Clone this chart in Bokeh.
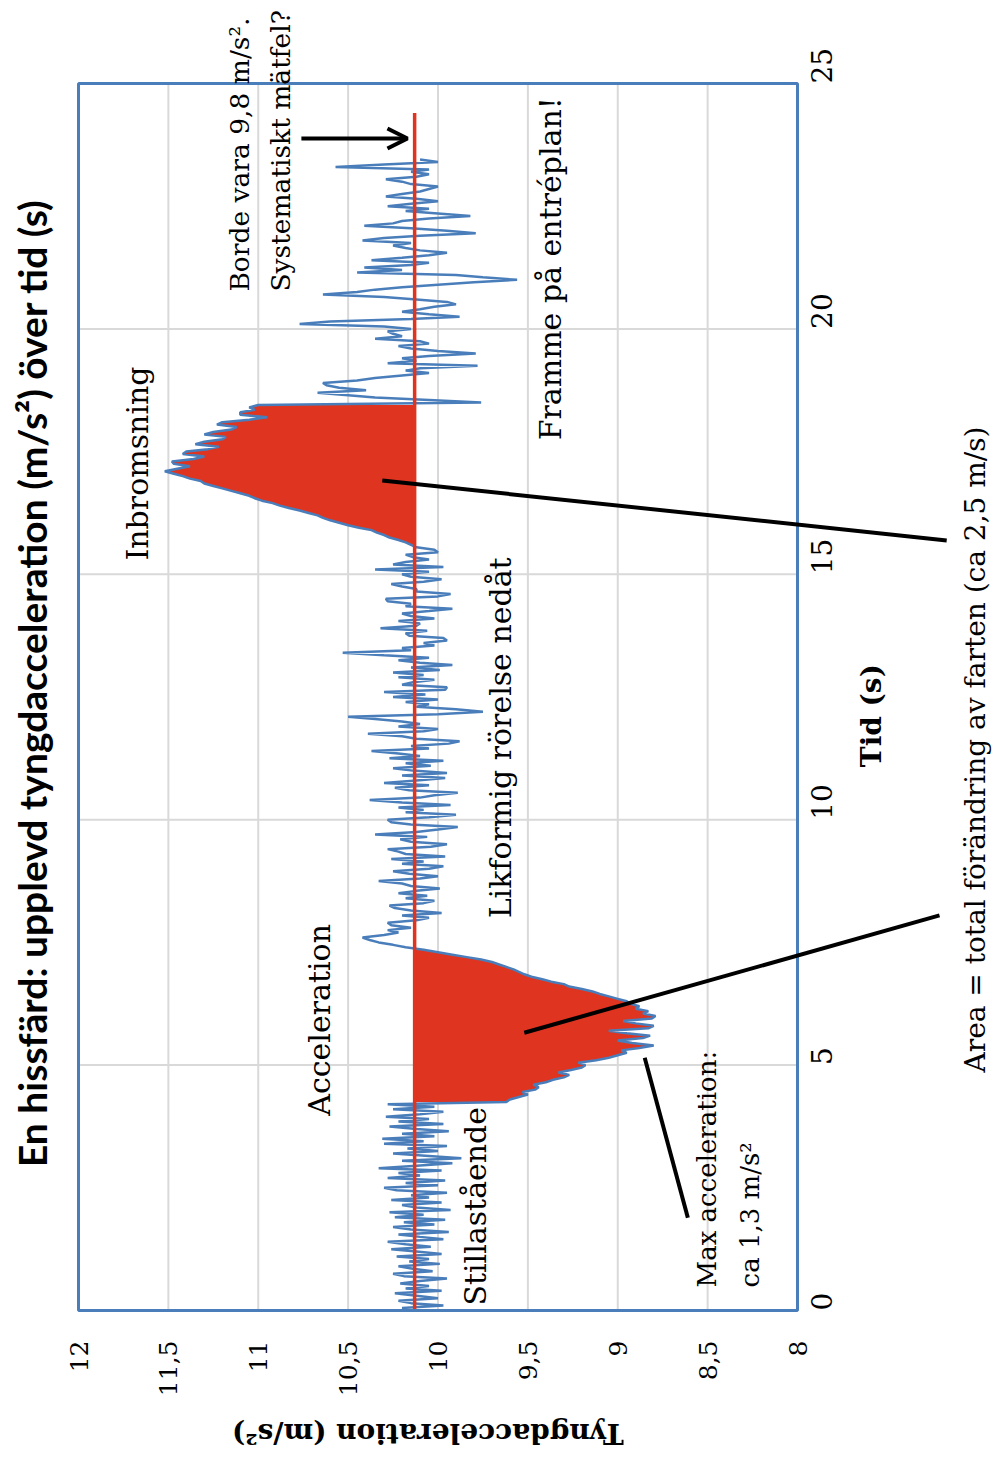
import math
from bokeh.plotting import figure
from bokeh.models import Range1d, FixedTicker, Label, Arrow, OpenHead, LinearAxis, BoxAnnotation
from bokeh.embed import file_html
from bokeh.resources import INLINE

# ---------------- data ----------------
SAMPLE_INTERVAL = 0.05         # s between samples
MEAN_G = 10.13                 # measured "rest" value (red line)
MEAN_LINE_END = 24.4           # s, where red line ends

acc_still = [10.08, 10.2, 9.97, 10.15, 10.22, 10.0, 10.12, 10.24, 9.98, 10.18,
             10.05, 10.21, 10.1, 9.95, 10.19, 10.25, 10.03, 10.14, 10.22, 9.99,
             10.16, 10.05, 10.23, 9.98, 10.12, 10.26, 10.04, 10.18, 10.28, 9.97,
             10.1, 10.22, 9.94, 10.15, 10.25, 10.02, 10.19, 9.96, 10.24, 10.08,
             10.27, 9.93, 10.12, 10.2, 9.98, 10.26, 10.05, 10.15, 9.95, 10.23,
             10.3, 10.0, 10.18, 9.96, 10.28, 10.1, 10.22, 9.98, 10.33, 10.12,
             9.92, 10.2, 9.87, 10.05, 10.25, 10.0, 10.17, 9.95, 10.3, 10.08,
             10.31, 10.02, 10.2, 9.94, 10.12, 10.27, 9.97, 10.22, 10.05, 10.29,
             10.1, 9.97, 10.25, 10.02, 10.28]
acc_accel = [9.62, 9.6, 9.55, 9.5, 9.53, 9.46, 9.44, 9.47, 9.4, 9.36,
             9.3, 9.27, 9.33, 9.26, 9.2, 9.18, 9.22, 9.12, 9.05, 9.0,
             8.95, 8.98, 8.88, 8.8, 8.92, 9.0, 8.86, 8.82, 8.95, 9.05,
             8.83, 8.8, 8.9, 8.97, 8.81, 8.79, 8.86, 8.83, 8.9, 8.88,
             8.93, 8.95, 9.0, 9.05, 9.1, 9.14, 9.2, 9.27, 9.3, 9.37,
             9.42, 9.48, 9.52, 9.55, 9.58, 9.62, 9.66, 9.7, 9.76, 9.84,
             9.92, 10.0, 10.08]
acc_uniform = [10.18, 10.25, 10.33, 10.38, 10.42, 10.3, 10.22, 10.28, 10.15, 10.26,
               10.28, 10.12, 10.05, 10.2, 9.98, 10.15, 10.24, 10.27, 10.08, 10.02,
               10.18, 10.06, 10.22, 10.12, 9.99, 10.15, 10.2, 10.33, 10.1, 10.0,
               10.16, 10.25, 10.05, 9.97, 10.2, 10.08, 10.26, 9.96, 10.18, 10.22,
               10.28, 10.04, 9.95, 10.15, 10.21, 10.06, 10.35, 10.12, 10.0, 9.89,
               10.15, 10.26, 10.28, 10.05, 9.9, 10.18, 10.08, 10.22, 9.93, 10.2,
               10.38, 10.1, 10.02, 9.89, 10.16, 10.24, 10.05, 10.3, 10.12, 9.96,
               10.2, 9.95, 10.14, 10.25, 10.04, 10.18, 9.97, 10.27, 10.1, 10.22,
               10.37, 10.05, 10.15, 9.94, 9.88, 10.12, 10.2, 10.39, 10.08, 10.0,
               10.22, 10.1, 10.2, 10.35, 10.5, 10.0, 9.75, 9.9, 10.12, 10.05,
               10.18, 10.0, 10.25, 10.07, 10.3, 9.96, 9.95, 10.2, 10.14, 10.02,
               10.22, 10.08, 10.25, 9.99, 10.15, 9.92, 10.1, 10.22, 10.05, 10.3,
               10.53, 10.15, 10.2, 10.02, 10.08, 9.95, 9.97, 10.16, 10.18, 10.06,
               10.32, 10.12, 10.1, 10.22, 10.02, 10.15, 10.2, 10.05, 9.92, 10.18,
               10.15, 10.28, 10.29, 10.0, 9.93, 10.12, 10.12, 10.2, 10.26, 10.08,
               9.98, 10.15, 10.2, 10.05, 10.35, 9.97, 10.25, 10.18, 10.05, 10.14,
               10.18, 10.0, 10.02, 10.12]
acc_brake = [10.15, 10.18, 10.22, 10.27, 10.3, 10.34, 10.37, 10.44, 10.5, 10.55,
             10.6, 10.64, 10.67, 10.72, 10.77, 10.83, 10.88, 10.92, 10.98, 11.02,
             11.05, 11.1, 11.15, 11.2, 11.25, 11.3, 11.32, 11.38, 11.42, 11.47,
             11.52, 11.45, 11.38, 11.47, 11.48, 11.36, 11.3, 11.42, 11.4, 11.28,
             11.22, 11.35, 11.3, 11.2, 11.18, 11.3, 11.25, 11.15, 11.12, 11.23,
             11.2, 11.05, 10.95, 11.1, 11.1, 11.02, 11.05, 11.0]
acc_arrived = [9.76, 10.05, 10.35, 10.5, 10.67, 10.4, 10.55, 10.62, 10.64, 10.45,
               10.35, 10.2, 10.05, 10.18, 10.1, 9.78, 10.28, 10.12, 10.2, 10.05,
               9.79, 10.0, 10.15, 10.22, 10.05, 10.1, 10.35, 10.2, 10.25, 10.28,
               10.15, 10.3, 10.77, 10.6, 10.15, 9.88, 10.05, 10.2, 10.1, 10.02,
               9.9, 9.95, 10.12, 10.3, 10.64, 10.45, 10.35, 10.2, 10.0, 9.8,
               9.56, 9.75, 9.9, 10.45, 10.2, 10.41, 10.15, 10.05, 10.37, 10.2,
               10.05, 9.95, 10.1, 10.18, 10.25, 10.15, 10.42, 10.3, 10.1, 9.79,
               9.95, 10.15, 10.41, 10.25, 10.2, 10.05, 9.82, 10.0, 10.18, 10.05,
               10.28, 10.15, 10.0, 10.12, 10.29, 10.2, 10.1, 10.05, 10.0, 10.15,
               10.2, 10.29, 10.12, 10.05, 10.15, 10.05, 10.57, 10.3, 10.0, 10.1]

acc_ticks = [8, 8.5, 9, 9.5, 10, 10.5, 11, 11.5, 12]
acc_tick_labels = ["8", "8,5", "9", "9,5", "10", "10,5", "11", "11,5", "12"]
time_ticks = [0, 5, 10, 15, 20, 25]
time_tick_labels = ["0", "5", "10", "15", "20", "25"]
ACC_MIN, ACC_MAX = 8, 12
T_MIN, T_MAX = 0, 25

acceleration = acc_still + acc_accel + acc_uniform + acc_brake + acc_arrived
time = [round(i * SAMPLE_INTERVAL, 2) for i in range(len(acceleration))]

i_acc0 = len(acc_still)
i_acc1 = i_acc0 + len(acc_accel)
i_brk0 = i_acc1 + len(acc_uniform)
i_brk1 = i_brk0 + len(acc_brake)

# ---------------- layout geometry (pixels) ----------------
W, H = 995, 1460
BOX_L, BOX_R, BOX_T, BOX_B = 78, 797, 83, 1310   # plot box in page pixels
px_per_acc = (BOX_R - BOX_L) / (ACC_MAX - ACC_MIN)
px_per_t = (BOX_B - BOX_T) / (T_MAX - T_MIN)
x_start = ACC_MAX + BOX_L / px_per_acc
x_end = ACC_MAX - (W - BOX_L) / px_per_acc
y_end = T_MIN + BOX_B / px_per_t
y_start = T_MIN - (H - BOX_B) / px_per_t

BLUE = "#4A7EBB"
RED = "#DF3420"
GRID = "#D9D9D9"
SERIF = "DejaVu Serif"

p = figure(width=W, height=H,
           x_range=Range1d(x_start, x_end), y_range=Range1d(y_start, y_end),
           x_axis_location=None, y_axis_location=None,
           output_backend="svg", toolbar_location=None, min_border=0)
p.background_fill_color = "white"
p.border_fill_color = "white"
p.outline_line_color = None
p.grid.visible = False

# grid lines inside the plot box
inner_acc = [a for a in acc_ticks if ACC_MIN < a < ACC_MAX]
inner_t = [t for t in time_ticks if T_MIN < t < T_MAX]
p.segment(x0=inner_acc, y0=[T_MIN] * len(inner_acc), x1=inner_acc, y1=[T_MAX] * len(inner_acc),
          line_color=GRID, line_width=2)
p.segment(x0=[ACC_MIN] * len(inner_t), y0=inner_t, x1=[ACC_MAX] * len(inner_t), y1=inner_t,
          line_color=GRID, line_width=2)

# axes fixed at the box edges
acc_axis = LinearAxis(fixed_location=T_MIN, ticker=FixedTicker(ticks=acc_ticks))
time_axis = LinearAxis(fixed_location=ACC_MIN, ticker=FixedTicker(ticks=time_ticks))
acc_axis.major_label_overrides = {float(k): v for k, v in zip(acc_ticks, acc_tick_labels)}
time_axis.major_label_overrides = {float(k): v for k, v in zip(time_ticks, time_tick_labels)}
for ax, size, standoff in ((acc_axis, "25px", 24), (time_axis, "28px", 18)):
    ax.axis_line_color = None
    ax.major_tick_line_color = None
    ax.minor_tick_line_color = None
    ax.major_label_orientation = math.pi / 2
    ax.major_label_text_font = SERIF
    ax.major_label_text_font_size = size
    ax.major_label_text_color = "black"
    ax.major_label_standoff = standoff
p.add_layout(acc_axis, "below")
p.add_layout(time_axis, "right")

# filled areas (change of speed)
p.harea(y=time[i_acc0:i_acc1], x1=acceleration[i_acc0:i_acc1],
        x2=[MEAN_G] * (i_acc1 - i_acc0), fill_color=RED)
p.harea(y=time[i_brk0:i_brk1], x1=acceleration[i_brk0:i_brk1],
        x2=[MEAN_G] * (i_brk1 - i_brk0), fill_color=RED)

# measured signal
p.line(x=acceleration, y=time, line_color=BLUE, line_width=2.5)
# mean line
p.line(x=[MEAN_G, MEAN_G], y=[T_MIN, MEAN_LINE_END], line_color=RED, line_width=3.5)

# plot box
p.add_layout(BoxAnnotation(left=ACC_MIN, right=ACC_MAX, bottom=T_MIN, top=T_MAX,
                           fill_alpha=0, line_color=BLUE, line_alpha=1.0, line_width=3))

# ---------------- annotations ----------------
p.add_layout(Arrow(end=OpenHead(size=20, line_width=4, line_color="black"),
                   x_start=10.76, y_start=23.88, x_end=10.17, y_end=23.88,
                   line_width=4, line_color="black"))

pointer_lines = [(8.85, 5.15, 8.61, 1.89),
                 (9.52, 5.66, 7.21, 8.05),
                 (10.31, 16.91, 7.17, 15.69)]
for xs, ys, xe, ye in pointer_lines:
    p.add_layout(Arrow(end=None, x_start=xs, y_start=ys, x_end=xe, y_end=ye,
                       line_width=4, line_color="black"))

texts = [
    # text, x(acc), y(time), size, align, angle, font, style
    ("En hissfärd: upplevd tyngdacceleration (m/s²) över tid (s)", 12.261, 12.78, "39px", "center", math.pi / 2, "Lato", "bold"),
    ("Borde vara 9,8 m/s².", 11.106, 20.76, "26.5px", "left", math.pi / 2, SERIF, "normal"),
    ("Systematiskt mätfel?", 10.878, 20.76, "26.5px", "left", math.pi / 2, SERIF, "normal"),
    ("Inbromsning", 11.672, 15.28, "30px", "left", math.pi / 2, SERIF, "normal"),
    ("Framme på entréplan!", 9.372, 17.73, "30px", "left", math.pi / 2, SERIF, "normal"),
    ("Likformig rörelse nedåt", 9.65, 7.99, "30px", "left", math.pi / 2, SERIF, "normal"),
    ("Acceleration", 10.661, 3.97, "30px", "left", math.pi / 2, SERIF, "normal"),
    ("Stillastående", 9.789, 0.10, "30px", "left", math.pi / 2, SERIF, "normal"),
    ("Max acceleration:", 8.506, 0.47, "26px", "left", math.pi / 2, SERIF, "normal"),
    ("ca 1,3 m/s²", 8.267, 0.47, "26px", "left", math.pi / 2, SERIF, "normal"),
    ("Area = total förändring av farten (ca 2,5 m/s)", 7.01, 4.85, "28px", "left", math.pi / 2, SERIF, "normal"),
    ("Tid (s)", 7.589, 12.12, "28px", "center", math.pi / 2, SERIF, "bold"),
    ("Tyngdacceleration (m/s²)", 10.056, -2.506, "28px", "center", math.pi, SERIF, "bold"),
]
for txt, x, y, size, align, ang, font, style in texts:
    p.add_layout(Label(x=x, y=y, text=txt, angle=ang, text_align=align,
                       text_baseline="middle", text_font=font,
                       text_font_size=size, text_font_style=style,
                       text_color="black"))

open("out.html", "w").write(file_html(p, INLINE))
